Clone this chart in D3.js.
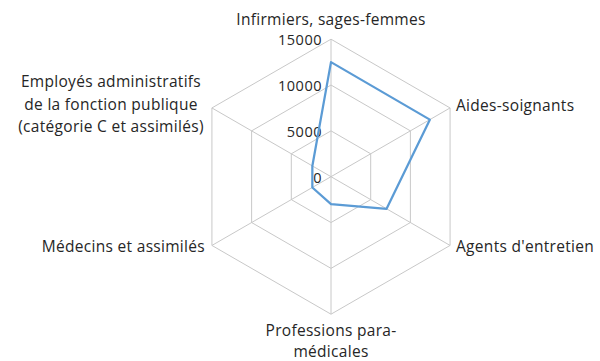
<!DOCTYPE html>
<html>
<head>
<meta charset="utf-8">
<script src="https://cdn.jsdelivr.net/npm/d3@7"></script>
<style>
  body { margin: 0; background: #fff; }
  text { font-family: "Open Sans", Lato, sans-serif; font-size: 15.5px; letter-spacing: 0.3px; fill: #262626; }
  text.tick { font-size: 14.5px; letter-spacing: 0.5px; }
</style>
</head>
<body>
<div id="chart"></div>
<script>
// categories, clockwise from the top
const categories = [
    ["Infirmiers, sages-femmes"],
    ["Aides-soignants"],
    ["Agents d'entretien"],
    ["Professions para-", "médicales"],
    ["Médecins et assimilés"],
    ["Employés administratifs", "de la fonction publique", "(catégorie C et assimilés)"]
];
const values = [12500, 12450, 7000, 3000, 2350, 2350];
const ticks = [0, 5000, 10000, 15000];

const width = 600, height = 361;
const cx = 331, cy = 176.7, radius = 137.5;

const svg = d3.select("#chart").append("svg").attr("width", width).attr("height", height);

const r = d3.scaleLinear().domain([0, 15000]).range([0, radius]);
const angle = d3.scaleLinear().domain([0, categories.length]).range([0, 2 * Math.PI]);

function pt(i, v) {
    const a = angle(i);
    return [cx + r(v) * Math.sin(a), cy - r(v) * Math.cos(a)];
}

// hexagon grid
const grid = svg.append("g").attr("stroke", "#c8c8c8").attr("stroke-width", 1).attr("fill", "none");
ticks.filter(t => t > 0).forEach(t => {
    grid.append("path").attr("d", d3.line()(categories.map((c, i) => pt(i, t))) + "Z");
});
categories.forEach((c, i) => {
    grid.append("path").attr("d", d3.line()([pt(i, 0), pt(i, 15000)]));
});

// tick labels
svg.selectAll(".tick").data(ticks).enter().append("text")
    .attr("class", "tick")
    .attr("x", cx - 9)
    .attr("y", d => cy - r(d))
    .attr("dy", "0.4em")
    .attr("text-anchor", "end")
    .text(d => d);

// series
svg.append("path")
    .attr("d", d3.line()(values.map((v, i) => pt(i, v))) + "Z")
    .attr("fill", "none")
    .attr("stroke", "#5b9bd5")
    .attr("stroke-width", 2.25)
    .attr("stroke-linejoin", "round");

// category labels
const labelPos = [
    {x: 331, y: 25, anchor: "middle", lh: 0},
    {x: 456, y: 111, anchor: "start", lh: 0},
    {x: 456, y: 252, anchor: "start", lh: 0},
    {x: 331, y: 336, anchor: "middle", lh: 21},
    {x: 205, y: 252, anchor: "end", lh: 0},
    {x: 111, y: 87, anchor: "middle", lh: 22.5}
];
categories.forEach((lines, i) => {
    const p = labelPos[i];
    const t = svg.append("text").attr("text-anchor", p.anchor);
    lines.forEach((line, j) => {
        t.append("tspan").attr("x", p.x).attr("y", p.y + j * p.lh).text(line);
    });
});
</script>
</body>
</html>
